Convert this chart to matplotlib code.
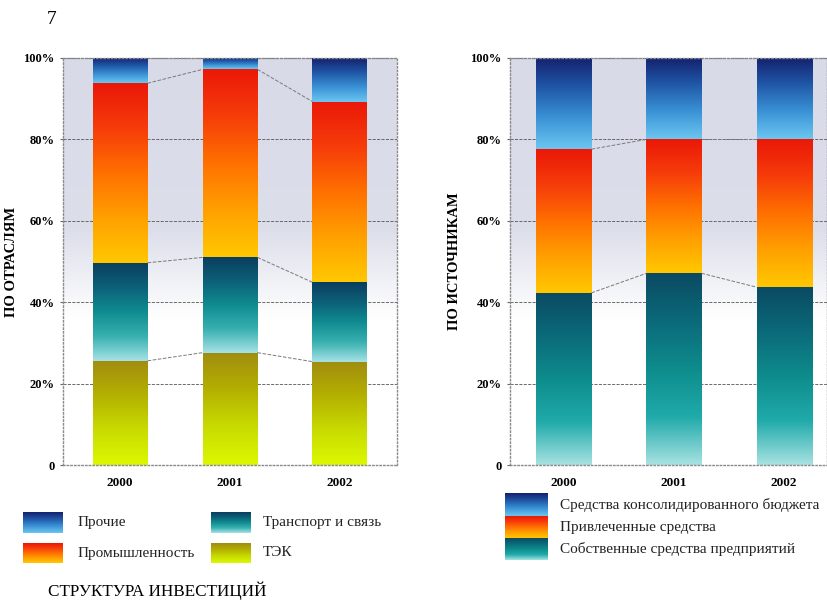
import numpy as np
import matplotlib.pyplot as plt
from matplotlib.colors import LinearSegmentedColormap

plt.rcParams['font.family'] = ['Liberation Serif', 'DejaVu Serif']

years = ["2000", "2001", "2002"]

# по отраслям, % (снизу вверх)
sector_names = ["ТЭК", "Транспорт и связь", "Промышленность", "Прочие"]
tek = [25.6, 27.6, 25.4]
transport = [24.1, 23.4, 19.5]
industry = [44.1, 46.2, 44.4]
other = [6.2, 2.8, 10.7]

# по источникам, % (снизу вверх)
source_names = ["Собственные средства предприятий", "Привлеченные средства",
                "Средства консолидированного бюджета"]
own = [42.3, 47.1, 43.7]
attracted = [35.3, 32.9, 36.3]
budget = [22.4, 20.0, 20.0]

ytick_labels = ["0", "20%", "40%", "60%", "80%", "100%"]

# градиенты снизу вверх
cm_other = LinearSegmentedColormap.from_list("other", ["#6cc6f0", "#3b93d6", "#2058a8", "#14206e"])
cm_ind = LinearSegmentedColormap.from_list("ind", ["#ffc800", "#ffa000", "#ff7000", "#f63c0a", "#ea1808"])
cm_trans = LinearSegmentedColormap.from_list("trans", ["#a6e2e6", "#38b0b0", "#0f8c90", "#0c6078", "#0a3e5e"])
cm_tek = LinearSegmentedColormap.from_list("tek", ["#dcf800", "#c8dc00", "#b4b000", "#a08c10"])
cm_own = LinearSegmentedColormap.from_list("own", ["#a8e2e2", "#20aaaa", "#0e8c8c", "#0b6a7a", "#0a4a62"])
cm_bg = LinearSegmentedColormap.from_list(
    "bg", [(0, "#ffffff"), (0.36, "#ffffff"), (0.58, "#dcdeea"), (1, "#d8dae8")])

grad = np.linspace(0, 1, 256).reshape(-1, 1)


def draw_stack(ax, series, cmaps, xlim):
    x = np.arange(len(years))
    ax.imshow(grad, cmap=cm_bg, extent=(xlim[0], xlim[1], 0, 100),
              origin="lower", aspect="auto", zorder=0)
    bottom = np.zeros(len(years))
    tops = []
    for vals, cm in zip(series, cmaps):
        bars = ax.bar(x, vals, 0.5, bottom=bottom, color="none", linewidth=0, zorder=3)
        for r in bars:
            ax.imshow(grad, cmap=cm,
                      extent=(r.get_x(), r.get_x() + r.get_width(),
                              r.get_y(), r.get_y() + r.get_height()),
                      origin="lower", aspect="auto", zorder=2)
        bottom = bottom + np.array(vals)
        tops.append(bottom.copy())
    for t in tops[:-1]:
        for i in range(len(x) - 1):
            ax.plot([x[i] + 0.25, x[i + 1] - 0.25], [t[i], t[i + 1]],
                    ls="--", color="#7a7a7a", lw=0.7, zorder=2)
    ax.set_xlim(*xlim)
    ax.set_ylim(0, 100)
    ax.set_xticks(x)
    ax.set_xticklabels(years, fontsize=9.5, fontweight="bold")
    ax.set_yticks([0, 20, 40, 60, 80, 100])
    ax.set_yticklabels(ytick_labels, fontsize=9, fontweight="bold")
    ax.tick_params(axis="x", length=0, pad=9)
    ax.tick_params(axis="y", length=2, pad=4, color="#666666")
    ax.yaxis.grid(True, color="#555555", ls="--", lw=0.6)
    ax.set_axisbelow(True)
    for s in ax.spines.values():
        s.set_color("#8a8a8a")
        s.set_linestyle(":")
        s.set_linewidth(1.0)


fig = plt.figure(figsize=(8.27, 6.01), dpi=100)

ax1 = fig.add_axes([63 / 827, 1 - 465 / 601, 334 / 827, 407 / 601])
draw_stack(ax1, [tek, transport, industry, other],
           [cm_tek, cm_trans, cm_ind, cm_other], (-0.52, 2.52))
ax1.set_ylabel("ПО ОТРАСЛЯМ", fontsize=10.5, fontweight="bold")
ax1.yaxis.set_label_coords(-0.135, 0.5)

ax2 = fig.add_axes([510 / 827, 1 - 465 / 601, 317 / 827, 407 / 601])
draw_stack(ax2, [own, attracted, budget],
           [cm_own, cm_ind, cm_other], (-0.49, 2.39))
ax2.set_ylabel("ПО ИСТОЧНИКАМ", fontsize=10.5, fontweight="bold")
ax2.yaxis.set_label_coords(-0.155, 0.5)

# легенды и подписи в пикселях рисунка
ov = fig.add_axes([0, 0, 1, 1])
ov.set_xlim(0, 827)
ov.set_ylim(601, 0)
ov.axis("off")

legend_left = [
    ("Прочие", cm_other, 23, 512, 533, 78),
    ("Промышленность", cm_ind, 23, 543, 563, 78),
    ("Транспорт и связь", cm_trans, 211, 512, 533, 263),
    ("ТЭК", cm_tek, 211, 543, 563, 263),
]
legend_right = [
    (source_names[2], cm_other, 505, 493, 516, 560),
    (source_names[1], cm_ind, 505, 516, 538, 560),
    (source_names[0], cm_own, 505, 538, 560, 560),
]
for name, cm, x0, y0, y1, tx in legend_left:
    ov.imshow(grad, cmap=cm, extent=(x0, x0 + 40, y1, y0), origin="lower", aspect="auto")
    ov.text(tx, (y0 + y1) / 2, name, fontsize=11, va="center", ha="left", color="#222222")
for name, cm, x0, y0, y1, tx in legend_right:
    ov.imshow(grad, cmap=cm, extent=(x0, x0 + 43, y1, y0), origin="lower", aspect="auto")
    ov.text(tx, (y0 + y1) / 2, name, fontsize=11, va="center", ha="left", color="#222222")
ov.set_xlim(0, 827)
ov.set_ylim(601, 0)

fig.text(52 / 827, 1 - 20 / 601, "7", fontsize=14, ha="center", va="center")
fig.text(48 / 827, 1 - 591 / 601, "СТРУКТУРА ИНВЕСТИЦИЙ", fontsize=12.3, ha="left", va="center")

fig.savefig("out.png", dpi=100)
